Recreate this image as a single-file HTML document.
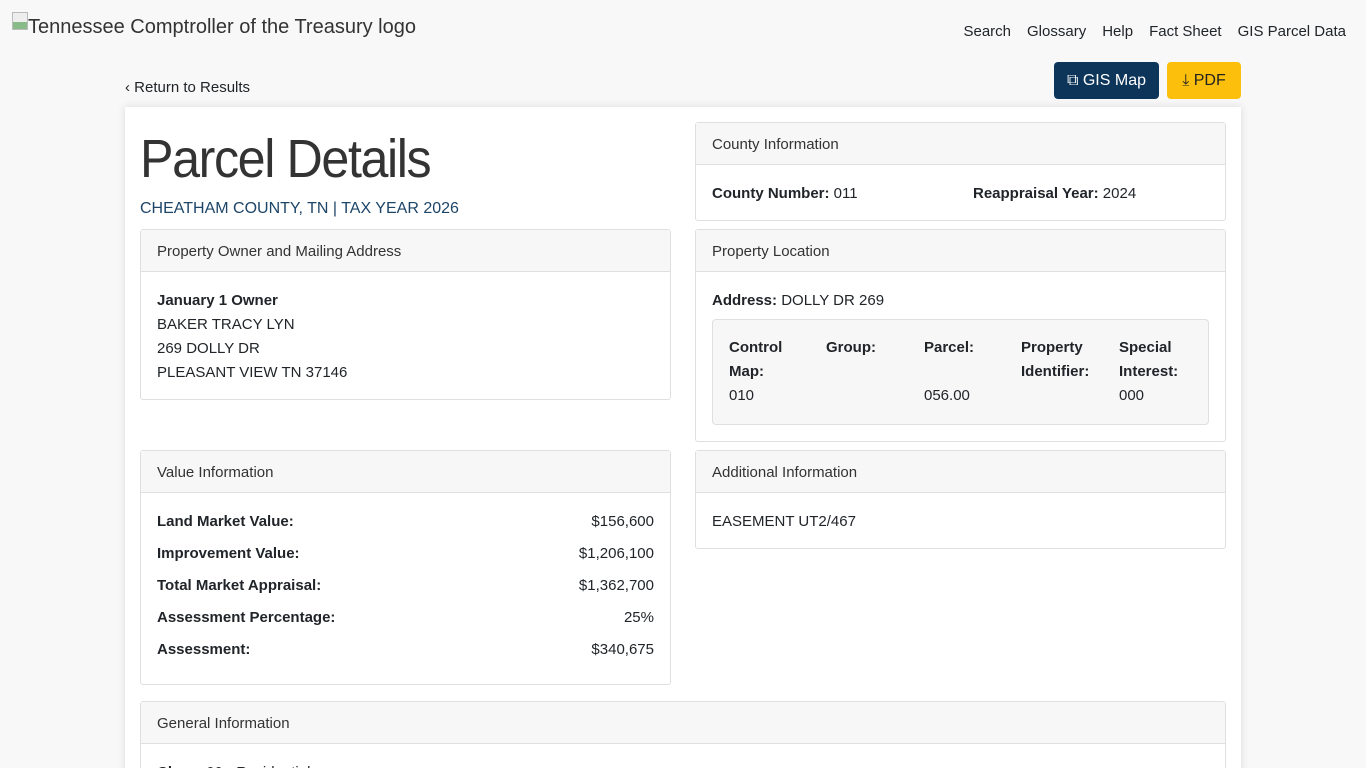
<!DOCTYPE html>
<html><head><style>
html,body{margin:0;width:1366px;height:768px;overflow:hidden}
body{background:#f8f8f8;font-family:"Liberation Sans",sans-serif;color:#212529;font-size:15px;position:relative}
.a{position:absolute}
.nav a{margin-left:16px;color:#212529;text-decoration:none}
.card{position:absolute;background:#fff;border:1px solid #dfdfdf;border-radius:3px;box-sizing:border-box}
.hd{height:41px;line-height:43px;padding-left:16px;background:#f7f7f7;border-bottom:1px solid #dfdfdf;color:#333}
b{font-weight:bold}
.row{position:absolute;left:16px;right:16px}
.row span{float:right}
</style></head><body>
<div class="a" style="left:12px;top:12px;width:16px;height:18px;border:1px solid #bbb;box-sizing:border-box;background:linear-gradient(#eee 55%,#8b8 55%)"></div>
<div class="a" style="left:28px;top:16px;font-size:20px;color:#333">Tennessee Comptroller of the Treasury logo</div>
<div class="a nav" style="right:20px;top:23px">
<a>Search</a><a>Glossary</a><a>Help</a><a>Fact Sheet</a><a>GIS Parcel Data</a></div>
<div class="a" style="left:125px;top:79px">&#8249; Return to Results</div>
<div class="a" style="left:1054px;top:62px;width:105px;height:37px;background:#0c3559;color:#fff;border-radius:4px;text-align:center;line-height:37px;font-size:16px">&#10697; GIS Map</div>
<div class="a" style="left:1167px;top:62px;width:74px;height:37px;background:#fcc00c;color:#222;border-radius:4px;text-align:center;line-height:37px;font-size:16px">&#10515; PDF</div>
<div class="a" style="left:125px;top:107px;width:1116px;height:680px;background:#fff;box-shadow:0 0 8px rgba(0,0,0,.12)"></div>
<div class="a" style="left:140px;top:128px;font-size:54px;font-weight:normal;color:#333;letter-spacing:-1.5px;transform:scaleX(0.93);transform-origin:left">Parcel Details</div>
<div class="a" style="left:140px;top:200px;font-size:16px;color:#1d4568">CHEATHAM COUNTY, TN | TAX YEAR 2026</div>

<div class="card" style="left:695px;top:122px;width:531px;height:99px"><div class="hd">County Information</div>
<div class="a" style="left:16px;top:62px"><b>County Number:</b> 011</div>
<div class="a" style="left:277px;top:62px"><b>Reappraisal Year:</b> 2024</div></div>

<div class="card" style="left:140px;top:229px;width:531px;height:171px"><div class="hd">Property Owner and Mailing Address</div>
<div class="a" style="left:16px;top:59px;line-height:24px"><b>January 1 Owner</b><br>BAKER TRACY LYN<br>269 DOLLY DR<br>PLEASANT VIEW TN 37146</div></div>

<div class="card" style="left:695px;top:229px;width:531px;height:213px"><div class="hd">Property Location</div>
<div class="a" style="left:16px;top:62px"><b>Address:</b> DOLLY DR 269</div>
<div class="a" style="left:16px;top:89px;width:497px;height:106px;background:#f7f7f7;border:1px solid #dfdfdf;border-radius:4px;box-sizing:border-box;line-height:24px">
<div class="a" style="left:16px;top:16px"><b>Control<br>Map:</b><br>010</div>
<div class="a" style="left:113px;top:16px"><b>Group:</b></div>
<div class="a" style="left:211px;top:16px"><b>Parcel:</b><br><br>056.00</div>
<div class="a" style="left:308px;top:16px"><b>Property<br>Identifier:</b></div>
<div class="a" style="left:406px;top:16px"><b>Special<br>Interest:</b><br>000</div>
</div></div>

<div class="card" style="left:140px;top:450px;width:531px;height:235px"><div class="hd">Value Information</div>
<div class="row" style="top:62px"><b>Land Market Value:</b><span>$156,600</span></div>
<div class="row" style="top:94px"><b>Improvement Value:</b><span>$1,206,100</span></div>
<div class="row" style="top:126px"><b>Total Market Appraisal:</b><span>$1,362,700</span></div>
<div class="row" style="top:158px"><b>Assessment Percentage:</b><span>25%</span></div>
<div class="row" style="top:190px"><b>Assessment:</b><span>$340,675</span></div></div>

<div class="card" style="left:695px;top:450px;width:531px;height:99px"><div class="hd">Additional Information</div>
<div class="a" style="left:16px;top:62px">EASEMENT UT2/467</div></div>

<div class="card" style="left:140px;top:701px;width:1086px;height:100px"><div class="hd">General Information</div>
<div class="a" style="left:16px;top:62px"><b>Class:</b> 00 - Residential</div></div>
</body></html>
